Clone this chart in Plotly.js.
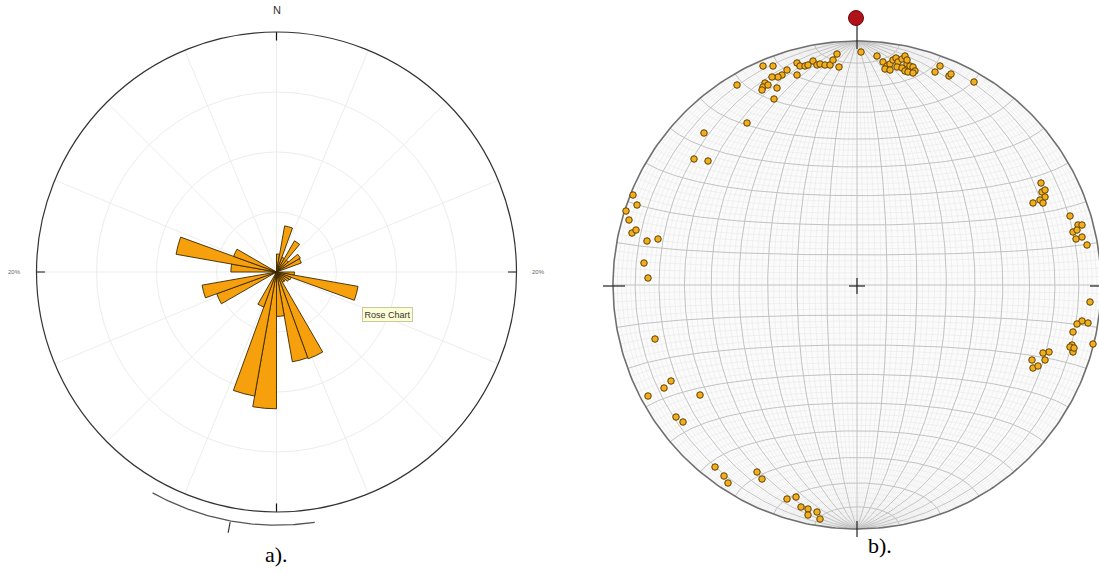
<!DOCTYPE html>
<html>
<head>
<meta charset="utf-8">
<script src="https://cdn.plot.ly/plotly-3.0.1.min.js"></script>
<style>html,body{margin:0;padding:0;background:#fff;}#chart{width:1099px;height:573px;}</style>
</head>
<body>
<div id="chart"></div>
<script>
// ---------- Rose chart data (bin centre azimuth in degrees, frequency in %) ----------
const roseTheta = [5, 15, 25, 35, 45, 55, 65, 95, 105, 115, 125, 135, 145, 155, 165, 175, 185, 195, 205, 245, 255, 275, 285, 295];
const roseFreq  = [1.5, 3.9, 1.3, 3.0, 1.3, 2.3, 2.2, 1.5, 6.9, 1.3, 1.2, 1.0, 1.0, 7.7, 7.6, 3.7, 11.4, 10.5, 3.1, 5.3, 6.3, 3.8, 8.5, 3.8];
const roseBinWidth = 10;
const roseMax = 20;              // outer circle = 20 %
const meanArcFrom = 171.3, meanArcTo = 209.3, meanDir = 190.5, meanArcR = 21.1;

// ---------- Stereonet poles (net coordinates, net radius = 244) ----------
const poleX = [-20, 4, -94, -84, -120, -110, -153, -60, -57, -52, -49, -44, -40, -37, -32, -27, -24, -18, -60, -70, -75, -79, -85, -92, -94, -95, -89, -80, -83, -163, -149,
  20, 26, 30, 33, 36, 39, 41, 45, 48, 50, 53, 56, 58, 28, 33, 40, 45, 48, 51, 56, 50, 78, 83, 92, 94, 117,
  -224, -220, -231, -228, -225, -221, -210, -199, -213, -209, -202, -186, -193, -209, -157, -181, -174, -142, -133, -129, -100, -95, -70, -61, -56, -49, -49, -40, -37,
  184, 185, 188, 188, 183, 186, 176, 213, 221, 225, 216, 220, 219, 225, 230, 233, 225, 231, 220, 216, 215, 216, 213, 236, 192, 186, 188, 175, 176, 181, 217];
const poleY = [231, 233, 219, 219, 200, 162, 152, 222, 219, 219, 220, 224, 220, 221, 220, 220, 225, 218, 210, 215, 210, 208, 208, 202, 198, 195, 200, 197, 186, 126, 124,
  229, 223, 219, 221, 225, 227, 223, 226, 229, 221, 219, 218, 214, 216, 215, 218, 217, 214, 213, 212, 225, 213, 219, 209, 211, 203,
  90, 80, 74, 65, 52, 55, 44, 46, 22, 7, -54, -96, -103, -111, -110, -132, -137, -182, -191, -198, -187, -194, -214, -212, -222, -224, -230, -227, -234,
  102, 93, 95, 88, 85, 82, 82, 69, 60, 60, 53, 55, 46, 48, 40, -17, -36, -38, -39, -47, -60, -67, -62, -59, -67, -68, -75, -75, -83, -81, -63];
const netRadius = 244;
const refPole = {x: -1, y: 267};

// ---------- Schmidt (equal-area) net grid ----------
function proj(lon, lat) {
  const l = lon * Math.PI / 180, p = lat * Math.PI / 180;
  const c = Math.cos(p) * Math.cos(l);
  const k = Math.sqrt(2 / (1 + c)) / Math.SQRT2;
  return [netRadius * k * Math.cos(p) * Math.sin(l), netRadius * k * Math.sin(p)];
}
const major = {x: [], y: []}, minor = {x: [], y: []};
for (let lon = -88; lon <= 88; lon += 2) {
  const t = (lon % 10 === 0) ? major : minor;
  for (let lat = -90; lat <= 90; lat += 1) { const q = proj(lon, lat); t.x.push(q[0]); t.y.push(q[1]); }
  t.x.push(null); t.y.push(null);
}
for (let lat = -88; lat <= 88; lat += 2) {
  const t = (lat % 10 === 0) ? major : minor;
  for (let lon = -90; lon <= 90; lon += 1) { const q = proj(lon, lat); t.x.push(q[0]); t.y.push(q[1]); }
  t.x.push(null); t.y.push(null);
}
const circ = {x: [], y: []};
for (let a = 0; a <= 360; a += 1) {
  circ.x.push(netRadius * Math.cos(a * Math.PI / 180));
  circ.y.push(netRadius * Math.sin(a * Math.PI / 180));
}
// mean-direction arc in the rose overlay frame (units = %, azimuth clockwise from N)
const arc = {x: [], y: []};
for (let a = meanArcFrom; a <= meanArcTo + 0.01; a += 0.5) {
  const t = a * Math.PI / 180;
  arc.x.push(meanArcR * Math.sin(t)); arc.y.push(meanArcR * Math.cos(t));
}
const md = meanDir * Math.PI / 180;
const meanTick = {x: [21.2 * Math.sin(md), 22.1 * Math.sin(md)], y: [21.2 * Math.cos(md), 22.1 * Math.cos(md)]};

const traces = [
  // rose
  {type: 'barpolar', r: roseFreq, theta: roseTheta, width: roseFreq.map(() => roseBinWidth),
   marker: {color: '#F5A00C', line: {color: '#3a2800', width: 0.9}}, subplot: 'polar', hoverinfo: 'none'},
  // N/E/S/W ticks
  {type: 'scatterpolar', mode: 'lines', subplot: 'polar', cliponaxis: false, hoverinfo: 'none',
   r: [19.3, 20.7, null, 19.3, 20.7, null, 19.3, 20.7, null, 19.3, 20.7],
   theta: [0, 0, null, 90, 90, null, 180, 180, null, 270, 270],
   line: {color: '#111', width: 1.2}},
  // mean direction arc (overlay axes)
  {type: 'scatter', mode: 'lines', x: arc.x, y: arc.y, xaxis: 'x3', yaxis: 'y3', hoverinfo: 'none',
   line: {color: '#555', width: 1.3}},
  {type: 'scatter', mode: 'lines', x: meanTick.x, y: meanTick.y, xaxis: 'x3', yaxis: 'y3', hoverinfo: 'none',
   line: {color: '#333', width: 1.2}},
  // stereonet background
  {type: 'scatter', mode: 'lines', x: circ.x, y: circ.y, xaxis: 'x2', yaxis: 'y2', fill: 'toself',
   fillcolor: '#fbfbfb', line: {color: 'rgba(0,0,0,0)', width: 0}, hoverinfo: 'none'},
  {type: 'scatter', mode: 'lines', x: minor.x, y: minor.y, xaxis: 'x2', yaxis: 'y2',
   line: {color: '#e4e4e4', width: 0.5}, hoverinfo: 'none', connectgaps: false},
  {type: 'scatter', mode: 'lines', x: major.x, y: major.y, xaxis: 'x2', yaxis: 'y2',
   line: {color: '#c2c2c2', width: 1}, hoverinfo: 'none', connectgaps: false},
  {type: 'scatter', mode: 'lines', x: circ.x, y: circ.y, xaxis: 'x2', yaxis: 'y2',
   line: {color: '#707070', width: 1.6}, hoverinfo: 'none'},
  // ticks & centre cross
  {type: 'scatter', mode: 'lines', xaxis: 'x2', yaxis: 'y2', hoverinfo: 'none',
   x: [0, 0, null, 0, 0, null, -254, -232, null, 233, 250, null, -8, 8, null, 0, 0],
   y: [262, 236, null, -236, -252, null, -1, -1, null, -1, -1, null, -1, -1, null, -9, 7],
   line: {color: '#222', width: 1.2}},
  // poles
  {type: 'scatter', mode: 'markers', x: poleX, y: poleY, xaxis: 'x2', yaxis: 'y2', hoverinfo: 'none',
   marker: {size: 6.5, color: '#F2AE1C', line: {color: '#5e4104', width: 1}}},
  {type: 'scatter', mode: 'markers', x: [refPole.x], y: [refPole.y], xaxis: 'x2', yaxis: 'y2', hoverinfo: 'none',
   marker: {size: 15, color: '#B0121A', line: {color: '#6d0a0f', width: 1}}}
];

const W = 1099, H = 573;
const px = v => v / W, py = v => 1 - v / H;
const ann = (text, x, y, font, extra) => Object.assign({text: text, x: px(x), y: py(y), xref: 'paper', yref: 'paper',
  showarrow: false, xanchor: 'center', yanchor: 'middle', font: font}, extra || {});
const sans = s => ({family: 'Arial, Liberation Sans', size: s, color: '#333'});
const serif = {family: 'Liberation Serif, Times New Roman', size: 22, color: '#000'};
const layout = {
  width: W, height: H, margin: {l: 0, r: 0, t: 0, b: 0},
  paper_bgcolor: '#fff', plot_bgcolor: 'rgba(0,0,0,0)', showlegend: false,
  polar: {
    domain: {x: [px(36.5), px(516.5)], y: [py(512), py(32)]},
    bgcolor: '#fff',
    radialaxis: {range: [0, roseMax], dtick: 5, showticklabels: false, ticks: '', showline: false,
                 gridcolor: '#ededed', gridwidth: 1},
    angularaxis: {rotation: 90, direction: 'clockwise', dtick: 22.5, showticklabels: false, ticks: '',
                  showline: true, linecolor: '#333', linewidth: 1.2, gridcolor: '#ededed'}
  },
  xaxis2: {domain: [600 / W, 1], range: [-257, 242], visible: false, fixedrange: true},
  yaxis2: {domain: [0, 1], range: [-288, 285], visible: false, fixedrange: true},
  xaxis3: {domain: [0, 549.5 / W], range: [-276.5 / 12, 273 / 12], visible: false, fixedrange: true},
  yaxis3: {domain: [0, 1], range: [-301 / 12, 272 / 12], visible: false, fixedrange: true},
  annotations: [
    ann('N', 276.5, 10, {family: 'Arial, Liberation Sans', size: 11, color: '#333'}),
    ann('20%', 14, 272, {family: 'Arial, Liberation Sans', size: 6, color: '#666'}),
    ann('20%', 538, 272, {family: 'Arial, Liberation Sans', size: 6, color: '#666'}),
    ann('Rose Chart', 387, 314.5, sans(9), {bgcolor: '#fdfdd6', bordercolor: '#c9c9a0', borderwidth: 1, borderpad: 1.5}),
    ann('a).', 276, 554, serif),
    ann('b).', 880, 545, serif)
  ]
};
Plotly.newPlot('chart', traces, layout, {displayModeBar: false, staticPlot: true});
</script>
</body>
</html>
